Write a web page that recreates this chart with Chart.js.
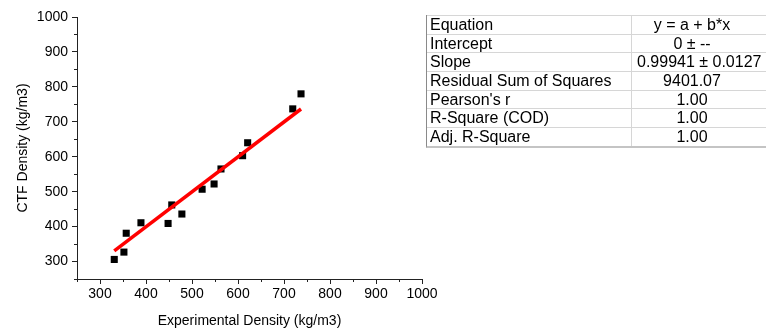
<!DOCTYPE html>
<html>
<head>
<meta charset="utf-8">
<script src="https://cdn.jsdelivr.net/npm/chart.js@4.4.1/dist/chart.umd.min.js"></script>
<style>
  body { margin: 0; background: #fff; }
  #wrap { position: relative; width: 766px; height: 334px; overflow: hidden; font-family: "Liberation Sans", Arial, sans-serif; }
  #stats { position: absolute; left: 426px; top: 15px; border-left: 1px solid #8a8a8a; border-bottom: 2px solid #c4c4c4; }
  .row { display: flex; height: 18.67px; line-height: 18px; border-top: 1px solid #d6d6d6; box-sizing: border-box; font-size: 16px; color: #000; white-space: nowrap; }
  .lab { width: 205px; padding-left: 3px; box-sizing: border-box; border-right: 1px solid #d6d6d6; }
  .val { width: 140px; padding-left: 5px; padding-right: 25px; box-sizing: border-box; text-align: center; }
</style>
</head>
<body>
<div id="wrap">
  <canvas id="myChart" width="766" height="334"></canvas>
  <div id="stats"></div>
</div>
<script>
// measured points
var expDensity = [331, 352, 357, 389, 448, 456, 478, 522, 548, 563, 610, 621, 719, 737];
var ctfDensity = [306, 327, 381, 411, 409, 462, 436, 507, 522, 565, 603, 640, 737, 780];

// fitted line y = 0.99941 x, drawn over the data range
var fitX = [331, 737];
var fitY = [330.8, 736.6];

var tickValues = [300, 400, 500, 600, 700, 800, 900, 1000];

var tableLabels = ["Equation", "Intercept", "Slope", "Residual Sum of Squares", "Pearson's r", "R-Square (COD)", "Adj. R-Square"];
var tableValues = ["y = a + b*x", "0 \u00b1 --", "0.99941 \u00b1 0.0127", "9401.07", "1.00", "1.00", "1.00"];

// stats table
var stats = document.getElementById("stats");
for (var i = 0; i < tableLabels.length; i++) {
    stats.innerHTML += "<div class='row'><div class='lab'>" + tableLabels[i] +
        "</div><div class='val'>" + tableValues[i] + "</div></div>";
}

var scatterPts = [];
for (var i = 0; i < expDensity.length; i++) {
    scatterPts.push({ x: expDensity[i], y: ctfDensity[i] });
}
var fitPts = [];
for (var i = 0; i < fitX.length; i++) {
    fitPts.push({ x: fitX[i], y: fitY[i] });
}

var axisColor = "#222";
var fontFam = "'Liberation Sans', Arial, sans-serif";

function isMajor(v) {
    return tickValues.indexOf(v) !== -1;
}

// short minor ticks between the labelled ones
var minorTicks = {
    id: "minorTicks",
    afterDraw: function (chart) {
        var ctx = chart.ctx;
        ctx.save();
        ctx.strokeStyle = axisColor;
        ctx.lineWidth = 1;
        var xs = chart.scales.x, ys = chart.scales.y;
        xs.ticks.forEach(function (t) {
            if (isMajor(t.value)) return;
            var px = Math.round(xs.getPixelForValue(t.value)) + 0.5;
            ctx.beginPath();
            ctx.moveTo(px, xs.top);
            ctx.lineTo(px, xs.top + 3);
            ctx.stroke();
        });
        ys.ticks.forEach(function (t) {
            if (isMajor(t.value)) return;
            var py = Math.round(ys.getPixelForValue(t.value)) + 0.5;
            ctx.beginPath();
            ctx.moveTo(ys.right, py);
            ctx.lineTo(ys.right - 3, py);
            ctx.stroke();
        });
        ctx.restore();
    }
};

var ctx = document.getElementById("myChart").getContext("2d");
var chart = new Chart(ctx, {
    type: "scatter",
    data: {
        datasets: [{
            label: "Fit",
            data: fitPts,
            showLine: true,
            borderColor: "#ff0000",
            borderWidth: 3.5,
            pointRadius: 0,
            order: 0
        }, {
            label: "CTF Density",
            data: scatterPts,
            pointStyle: "rect",
            pointRadius: 5,
            backgroundColor: "#000",
            borderColor: "#000",
            borderWidth: 0,
            order: 1
        }]
    },
    options: {
        responsive: false,
        animation: false,
        layout: { padding: { left: 0, top: 17, right: 344, bottom: 0 } },
        plugins: { legend: { display: false }, tooltip: { enabled: false } },
        scales: {
            x: {
                type: "linear",
                min: 250,
                max: 1000,
                afterFit: function (s) { s.height = 55; },
                border: { display: true, color: axisColor, width: 1 },
                grid: {
                    drawOnChartArea: false,
                    tickLength: 5,
                    tickColor: function (c) { return isMajor(c.tick.value) ? axisColor : "transparent"; }
                },
                ticks: {
                    stepSize: 50,
                    autoSkip: false,
                    maxRotation: 0,
                    padding: 2,
                    color: "#000",
                    font: { family: fontFam, size: 14 },
                    callback: function (v) { return isMajor(v) ? v : ""; }
                },
                title: {
                    display: true,
                    text: "Experimental Density (kg/m3)",
                    color: "#000",
                    font: { family: fontFam, size: 14 },
                    padding: { top: 0, bottom: 4 }
                }
            },
            y: {
                type: "linear",
                min: 250,
                max: 1000,
                afterFit: function (s) { s.width = 77; },
                border: { display: true, color: axisColor, width: 1 },
                grid: {
                    drawOnChartArea: false,
                    tickLength: 5,
                    tickColor: function (c) { return isMajor(c.tick.value) ? axisColor : "transparent"; }
                },
                ticks: {
                    stepSize: 50,
                    autoSkip: false,
                    padding: 4,
                    color: "#000",
                    font: { family: fontFam, size: 14 },
                    callback: function (v) { return isMajor(v) ? v : ""; }
                },
                title: {
                    display: true,
                    text: "CTF Density (kg/m3)",
                    color: "#000",
                    font: { family: fontFam, size: 14 },
                    padding: { top: 15, bottom: 0 }
                }
            }
        }
    },
    plugins: [minorTicks]
});
</script>
</body>
</html>
